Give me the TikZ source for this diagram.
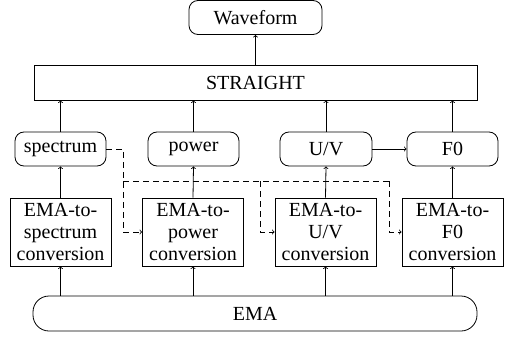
\documentclass[tikz,border=0pt]{standalone}
\usepackage{fontspec}
\setmainfont{Liberation Serif}
\usetikzlibrary{calc, positioning}

\begin{document}
\begin{tikzpicture}[x=1pt, y=1pt, line width=0.8pt,
  rnd/.style={draw, rounded corners=9pt, minimum height=34pt, inner sep=0pt},
  blk/.style={draw, minimum height=68pt, minimum width=101pt, align=center, inner sep=0pt},
  dsh/.style={dashed, dash pattern=on 6pt off 4pt},
  every node/.style={font=\rmfamily\fontsize{20}{22}\selectfont}]
\useasboundingbox (0,0) rectangle (511,338);
\node[rnd, minimum width=133pt] (W) at (255.5,320.5) {Waveform};
\node[draw, minimum width=443pt, minimum height=35pt] (S) at (255.5,255.5) {STRAIGHT};
\node[rnd, minimum width=91pt] (sp) at (60.5,189) {spectrum};
\node[rnd, minimum width=91pt] (pw) at (193.5,189) {power};
\node[rnd, minimum width=92pt] (uv) at (326,189) {U/V};
\node[rnd, minimum width=91pt] (f0) at (452.5,189) {F0};
\node[blk] (csp) at (60.5,106) {EMA-to-\\spectrum\\conversion};
\node[blk] (cpw) at (193,106) {EMA-to-\\power\\conversion};
\node[blk] (cuv) at (325.5,106) {EMA-to-\\U/V\\conversion};
\node[blk] (cf0) at (452.5,106) {EMA-to-\\F0\\conversion};
\node[draw, rounded corners=16pt, minimum width=444pt, minimum height=35pt] (E) at (255,24.5) {EMA};
% solid arrows
\foreach \c/\u in {csp/sp, cpw/pw, cuv/uv, cf0/f0} {
  \draw[->] (E.north -| \c.south) -- (\c.south);
  \draw[->] (\c.north) -- (\u.south);
  \draw[->] (\u.north) -- (S.south -| \u.north);
}
\draw[->] (S.north) -- (W.south);
\draw[->] (uv.east) -- (f0.west);
% dashed links
\coordinate (j) at (123,157);
\coordinate (ju) at (260,157);
\coordinate (jf) at (389,157);
\draw[dsh, ->] (sp.east) -| (j) |- (cpw.west);
\draw[dsh] (j) -- (jf);
\draw[dsh, ->] (ju) |- (cuv.west);
\draw[dsh, ->] (jf) |- (cf0.west);
\end{tikzpicture}
\end{document}
